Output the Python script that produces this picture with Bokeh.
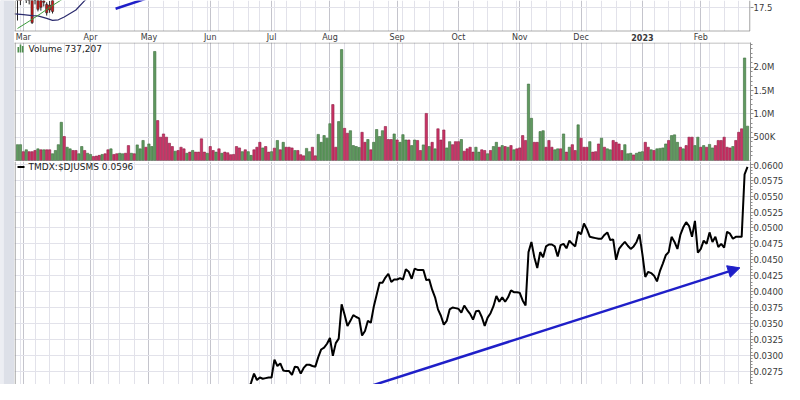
import pandas as pd
from bokeh.plotting import figure
from bokeh.layouts import row, column
from bokeh.models import (Range1d, FixedTicker, LinearAxis, ColumnDataSource,
                          Arrow, NormalHead, PrintfTickFormatter, Label)
from bokeh.core.properties import value
from bokeh.embed import file_html
from bokeh.resources import INLINE

# ---------------- data ----------------
first_day = "2022-02-25"
last_day = "2023-02-24"
market_holidays = ["2022-04-15", "2022-05-30", "2022-06-20", "2022-07-04", "2022-09-05",
                   "2022-11-24", "2022-12-26", "2023-01-02", "2023-01-16", "2023-02-20"]
month_names = ["Mar", "Apr", "May", "Jun", "Jul", "Aug", "Sep", "Oct", "Nov", "Dec", "2023", "Feb"]
month_styles = ["normal"] * 10 + ["bold", "normal"]

# daily volume (thousands of shares) and up/down colour (G = up day, R = down day)
volume_k = [
    340, 340, 190, 230, 190, 190, 215, 250, 230, 230, 230, 230, 145, 215, 340, 820, 515,
    285, 250, 215, 215, 145, 300, 215, 155, 130, 85, 95, 110, 130, 145, 230, 250, 130, 145,
    155, 145, 155, 320, 155, 145, 335, 250, 430, 285, 355, 300,
    2340,
    857, 500, 570, 500, 370, 300, 200, 215, 285, 250, 155, 180, 215, 180, 180, 465, 180, 155,
    300, 215, 180, 250, 155, 180, 165, 125, 130, 300, 270, 190, 230, 190, 110, 230, 285, 390,
    270, 300, 180, 190, 265, 430, 230, 390, 285, 285, 270, 215, 215, 125,
    100, 260, 190, 285, 100, 560, 390, 535, 480, 790, 1200, 285, 835,
    2380,
    690, 585, 640, 320, 300, 280, 605, 390, 450, 230, 390, 665, 515, 640, 730, 450, 450, 570,
    440, 390, 555, 440, 440, 320, 440, 430, 215, 335,
    1010,
    300, 390, 250, 680, 440, 655, 270, 405, 340, 405, 405, 450, 200, 250, 285, 180, 285, 180,
    230, 215, 145, 215, 300, 390, 285, 320, 300, 285, 320, 230, 250, 270, 535, 430, 1640, 905,
    390, 390, 620, 640, 285, 430, 285, 230, 250, 250, 570, 180, 285, 340, 215, 765, 480, 285,
    285, 405, 180, 190, 355, 480, 285, 250, 230, 430, 390, 355, 215, 340, 145, 155, 120, 155,
    180, 190, 390, 285, 230, 215, 250, 260, 270, 355, 430, 535, 550, 390, 285, 250, 320, 500,
    500, 320, 500, 285, 320, 285, 345, 270, 320, 430, 430, 500, 285, 270, 300, 430, 605, 680,
    2200, 737.207]
volume_dir = ("GGRGRRRGRGRRGGGGR"
              "GGRRGGRGGRRRGRRGRRGGRRGRGGGRGG"
              "G"
              "RRRRRRGRRRGRGRRRRGRRGRGRRRRRRGRGGRRRGRRGRGRGRRRGRR"
              "RGGRRGGGGGRRG"
              "G"
              "RRGGGGRRGRGGGGRRRGRGGGRGGRRG"
              "R"
              "GRGRRRGGRRRGRRRRGGRRGRGGRGRGRGRRRRGG"
              "RRGGRRRGGRGRGRRGRRRGRRRGRGGRRRRGGGRGGGRRGRGGGGRGGGRGRRRGGRGRGGRRRRRRGRRR"
              "GG")

# TMDX:$DJUSMS ratio (daily close)
ratio = [
    0.0171, 0.0168, 0.0165, 0.0160, 0.0158, 0.0162, 0.0157, 0.0150, 0.0146, 0.0149,
    0.0153, 0.0158, 0.0163, 0.0168, 0.0172, 0.0180, 0.0177, 0.0183, 0.0190, 0.0186,
    0.0181, 0.0184, 0.0192, 0.0196, 0.0193, 0.0189, 0.0185, 0.0182, 0.0178, 0.0174,
    0.0170, 0.0166, 0.0169, 0.0175, 0.0180, 0.0176, 0.0171, 0.0168, 0.0165, 0.0172,
    0.0178, 0.0181, 0.0184, 0.0188, 0.0195, 0.0210, 0.0224, 0.0215, 0.0206, 0.0211,
    0.0204, 0.0199, 0.0196, 0.0201, 0.0208, 0.0212, 0.0207, 0.0203, 0.0209, 0.0214,
    0.0218, 0.0213, 0.0209, 0.0216, 0.0221, 0.0225, 0.0219, 0.0214, 0.0211, 0.0217,
    0.0223, 0.0228, 0.0226, 0.0231, 0.0236, 0.0233, 0.0239, 0.0243, 0.0247, 0.0244,
    0.0257, 0.0271, 0.0261, 0.0265, 0.0263, 0.0264, 0.0265, 0.0265, 0.0293, 0.0283,
    0.0287, 0.0276, 0.0275, 0.0275, 0.0269, 0.0282, 0.0281, 0.0271, 0.0280, 0.0285,
    0.0285, 0.0283, 0.0282, 0.0297, 0.0309, 0.0312, 0.0318, 0.0327, 0.0299, 0.0319,
    0.0326, 0.0380, 0.0364, 0.0346, 0.0354, 0.0363, 0.0360, 0.0358, 0.0331, 0.0338,
    0.0354, 0.0351, 0.0376, 0.0395, 0.0414, 0.0414, 0.0422, 0.0428, 0.0415, 0.0419,
    0.0419, 0.0421, 0.0419, 0.0435, 0.0431, 0.0420, 0.0436, 0.0434, 0.0434, 0.0434,
    0.0418, 0.0419, 0.0403, 0.0391, 0.0372, 0.0362, 0.0348, 0.0354, 0.0372, 0.0375,
    0.0374, 0.0373, 0.0367, 0.0378, 0.0371, 0.0365, 0.0356, 0.0369, 0.0370, 0.0360,
    0.0346, 0.0359, 0.0366, 0.0377, 0.0393, 0.0384, 0.0391, 0.0384, 0.0391, 0.0402,
    0.0399, 0.0399, 0.0398, 0.0386, 0.0378, 0.0462, 0.0478, 0.0454, 0.0437, 0.0462,
    0.0454, 0.0471, 0.0474, 0.0474, 0.0471, 0.0455, 0.0473, 0.0475, 0.0468, 0.0480,
    0.0475, 0.0471, 0.0494, 0.0490, 0.0507, 0.0498, 0.0486, 0.0485, 0.0484, 0.0483,
    0.0483, 0.0489, 0.0493, 0.0481, 0.0482, 0.0450, 0.0467, 0.0473, 0.0478, 0.0472,
    0.0467, 0.0471, 0.0478, 0.0490, 0.0459, 0.0423, 0.0431, 0.0429, 0.0425, 0.0416,
    0.0432, 0.0444, 0.0457, 0.0462, 0.0486, 0.0478, 0.0467, 0.0489, 0.0501, 0.0509,
    0.0503, 0.0486, 0.0511, 0.0461, 0.0467, 0.0480, 0.0475, 0.0493, 0.0478, 0.0486,
    0.0470, 0.0475, 0.0469, 0.0494, 0.0491, 0.0483, 0.0486, 0.0486, 0.0486, 0.0584,
    0.0596]

# visible (bottom) part of the price panel, first days only
price_idx = [0, 1, 3, 4, 5, 6, 7, 8, 9, 10, 11, 12]
price_open = [19.0, 18.9, 18.6, 18.8, 19.0, 18.9, 18.7, 18.6, 18.4, 17.9, 17.8, 18.6]
price_close = [19.2, 18.6, 18.8, 18.5, 15.3, 18.5, 17.2, 17.5, 18.2, 16.7, 17.1, 16.9]
price_high = [19.5, 19.2, 19.1, 19.0, 19.2, 19.1, 19.0, 18.8, 18.8, 18.2, 18.4, 18.9]
price_low = [15.6, 17.8, 18.1, 17.9, 15.1, 17.9, 16.9, 17.0, 17.6, 16.3, 16.7, 16.6]
upper_band_idx = [-1, 2, 5, 7, 10, 12, 14, 16, 18, 20, 23, 27]
upper_band = [16.56, 16.45, 16.31, 16.25, 15.90, 15.62, 15.70, 16.10, 16.60, 17.10, 18.45, 19.60]
mid_line_idx = [0, 4, 8, 12, 16]
mid_line = [14.46, 15.50, 16.60, 17.75, 18.80]
price_trend = {"i": [33.6, 48.0], "p": [17.27, 19.28]}

price_ticks = [17.5]
volume_ticks = [500, 1000, 1500, 2000]
volume_tick_labels = ["500K", "1.0M", "1.5M", "2.0M"]
ratio_ticks = [0.0250 + 0.0025 * k for k in range(15)]
ratio_trend = {"i0": 78, "v0": 0.01886, "i1": 247.4, "v1": 0.04373}

# ---------------- derived ----------------
dates = pd.bdate_range(first_day, last_day, freq="C", holidays=market_holidays)
n = len(dates)
idx = list(range(n))
month_idx = [i for i in range(1, n) if dates[i].month != dates[i - 1].month]
week_idx = [i for i in range(1, n) if dates[i].weekday() < dates[i - 1].weekday()]

# ---------------- styling ----------------
FONT = "DejaVu Sans"
FW = 736
PXI = 2.92                      # pixels per trading day
X0 = -3.0 / PXI
X1 = X0 + FW / PXI
PX_X = 1.0 / PXI
GUTTER = "#dde0e8"
MONTH_GRID = "#c4c4cc"
WEEK_GRID = "#e2e2ea"
H_GRID = "#e2e2ea"
BORDER = "#8c8c8c"
GREEN_F, GREEN_L = "#5f9a5f", "#3d6b3d"
RED_F, RED_L = "#cc3366", "#8c1f45"
BLUE = "#1f1fc8"
TXT = "#3a3a3a"


def make_fig(h, y0, y1):
    p = figure(frame_width=FW, frame_height=h, x_range=Range1d(X0, X1),
               y_range=Range1d(y0, y1), output_backend="svg", toolbar_location=None,
               x_axis_location=None, y_axis_location=None,
               min_border_left=0, min_border_right=34, min_border_top=0, min_border_bottom=0,
               outline_line_color=None, background_fill_color="white",
               border_fill_color="white")
    p.xgrid.ticker = FixedTicker(ticks=month_idx, minor_ticks=week_idx)
    p.xgrid.grid_line_color = MONTH_GRID
    p.xgrid.minor_grid_line_color = WEEK_GRID
    p.ygrid.grid_line_color = H_GRID
    return p


def right_axis(p, ticks, minor=None, fmt=None, overrides=None):
    ax = LinearAxis(ticker=FixedTicker(ticks=ticks, minor_ticks=minor or []),
                    major_tick_out=3, major_tick_in=0, minor_tick_out=2, minor_tick_in=0,
                    major_label_standoff=0, axis_line_color=BORDER,
                    major_tick_line_color=BORDER, minor_tick_line_color=BORDER,
                    major_label_text_font=FONT, major_label_text_font_size="8.5px",
                    major_label_text_color=TXT)
    if fmt:
        ax.formatter = PrintfTickFormatter(format=fmt)
    if overrides:
        ax.major_label_overrides = overrides
    p.add_layout(ax, "right")
    p.ygrid.ticker = FixedTicker(ticks=ticks)
    return ax


# ---------------- price panel (cropped) ----------------
P_H = 42
k_px = 7.0
p_top = 17.5 + 6.7 / k_px
p_bot = p_top - P_H / k_px
band_y = p_top - 30.5 / k_px
label_y = p_top - 36.5 / k_px
pp = make_fig(P_H, p_bot, p_top)
right_axis(pp, price_ticks, fmt="%.1f")
pp.yaxis.axis_line_color = None

up = [c >= o for o, c in zip(price_open, price_close)]
csrc = ColumnDataSource(dict(x=price_idx, o=price_open, c=price_close, h=price_high, l=price_low,
                             col=["white" if u else "#d01818" for u in up]))
pp.segment(x0="x", x1="x", y0="l", y1="h", color="#222222", line_width=1, source=csrc)
pp.vbar(x="x", width=0.75, top="o", bottom="c", fill_color="col", line_color="#222222",
        line_width=0.6, source=csrc)
pp.line(upper_band_idx, upper_band, color="#2b2b6e", line_width=1.2)
pp.line(mid_line_idx, mid_line, color="#3a9a3a", line_width=1)
pp.line(price_trend["i"], price_trend["p"], color=BLUE, line_width=2.5)
# label band (covers grid lines)
pp.quad(left=X0, right=X1, bottom=p_bot, top=band_y, fill_color="white", line_color=None)
pp.line([X0, X1], [band_y, band_y], color="#5a5a5a", line_width=1, line_dash="1 1")
pp.line([X0 + 0.2, X0 + 0.2], [band_y, p_top], color=BORDER, line_width=1)
pp.line([X1 - 0.2, X1 - 0.2], [band_y, p_top], color=BORDER, line_width=1)
msrc = ColumnDataSource(dict(x=month_idx, y=[label_y] * len(month_idx), t=month_names,
                             s=month_styles))
pp.text(x="x", y="y", text="t", text_font_style="s", source=msrc, text_font=value(FONT),
        text_font_size="8px", text_align="center", text_baseline="middle", text_color=TXT)

# ---------------- volume panel ----------------
V_H = 119
v_per_px = 500.0 / 23.3
v_top = 118.0 * v_per_px
v_bot = -1.0 * v_per_px
pv = make_fig(V_H, v_bot, v_top)
right_axis(pv, volume_ticks, minor=[100 * k for k in range(1, 26)],
           overrides={t: s for t, s in zip(volume_ticks, volume_tick_labels)})
vsrc = ColumnDataSource(dict(x=idx, v=volume_k,
                             f=[GREEN_F if d == "G" else RED_F for d in volume_dir],
                             l=[GREEN_L if d == "G" else RED_L for d in volume_dir]))
pv.vbar(x="x", top="v", bottom=0, width=0.8, fill_color="f", line_color="l", line_width=0.6,
        source=vsrc)
pv.line([X0, X1], [v_top - 0.5 * v_per_px] * 2, color="#5a5a5a", line_width=1, line_dash="1 1")
pv.line([X0 + 0.2] * 2, [v_bot, v_top], color=BORDER, line_width=1)
pv.line([X0, X1], [v_bot + 0.5 * v_per_px] * 2, color=BORDER, line_width=1)
# legend
lx = X0 + 14.0 * PX_X
pv.quad(left=[X0 + (3.0 + 2.2 * k) * PX_X for k in range(3)],
        right=[X0 + (4.6 + 2.2 * k) * PX_X for k in range(3)],
        bottom=[v_top - 10.0 * v_per_px] * 3,
        top=[v_top - h * v_per_px for h in (4.5, 2.0, 3.5)],
        fill_color="#4e8e4e", line_color=None)
pv.add_layout(Label(x=lx, y=v_top - 6.0 * v_per_px, text="Volume 737,207", text_font=FONT,
                    text_font_size="9px", text_baseline="middle", text_align="left",
                    text_color="#222222"))

# ---------------- ratio panel (compressed to fit) ----------------
R_H = 223
r_top = 0.0600 + 3.0 / 17.05 * 0.0025
r_bot = 0.0600 - 236.0 / 17.05 * 0.0025
r_px = (r_top - r_bot) / R_H
pr = make_fig(R_H, r_bot, r_top)
right_axis(pr, ratio_ticks, minor=[0.0250 + 0.0005 * k for k in range(71)], fmt="%.4f")
pr.line([X0 + 0.2] * 2, [r_bot, r_top], color=BORDER, line_width=1)
pr.line(idx, ratio, color="black", line_width=2)
pr.add_layout(Arrow(x_start=ratio_trend["i0"], y_start=ratio_trend["v0"],
                    x_end=ratio_trend["i1"], y_end=ratio_trend["v1"],
                    line_color=BLUE, line_width=2.5,
                    end=NormalHead(size=12, fill_color=BLUE, line_color=BLUE)))
pr.line([X0 + 3.0 * PX_X, X0 + 10.0 * PX_X], [r_top - 5.6 * r_px] * 2, color="black",
        line_width=2)
pr.add_layout(Label(x=lx, y=r_top - 5.6 * r_px, text="TMDX:$DJUSMS 0.0596", text_font=FONT,
                    text_font_size="9px", text_baseline="middle", text_align="left",
                    text_color="#222222"))

# ---------------- gutter + layout ----------------
gut = figure(width=14, height=384, output_backend="svg", toolbar_location=None,
             x_axis_location=None, y_axis_location=None, min_border=0,
             outline_line_color=None, background_fill_color=GUTTER, border_fill_color=GUTTER,
             x_range=Range1d(0, 1), y_range=Range1d(0, 1))
gut.grid.visible = False
gut.line([0.1, 0.1], [0, 1], color="#eceef3", line_width=4)

layout = row(gut, column(pp, pv, pr, spacing=0), spacing=0)
open("out.html", "w").write(file_html(layout, INLINE))
